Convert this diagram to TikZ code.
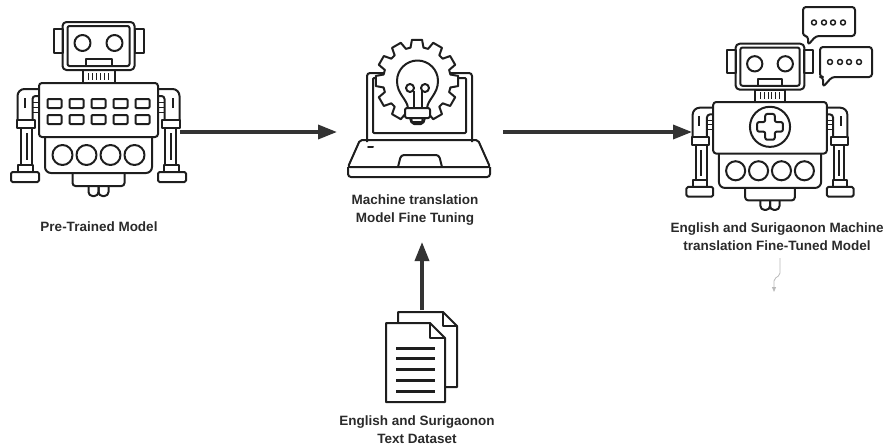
\documentclass[tikz,border=0pt]{standalone}
\usepackage{fontspec}
\setmainfont{Liberation Sans}
\usetikzlibrary{arrows.meta,calc}
\definecolor{ink}{HTML}{1E1E1E}
\definecolor{flowgray}{HTML}{333333}
\definecolor{labelgray}{HTML}{2A2A2A}
\tikzset{icon/.style = {draw=ink, line width=2pt, line join=round}}
\tikzset{flow/.style = {draw=flowgray, line width=3.5pt, -{Triangle[length=19pt,width=14pt]}}}
\tikzset{loose/.style = {draw=gray!55, line width=0.8pt, -{Triangle[length=5pt,width=4pt]}}}
\tikzset{caption/.style = {text=labelgray, font=\fontsize{13.5}{18}\selectfont\bfseries, align=center, inner sep=0}}
\tikzset{hull/.style = {inner sep=0, outer sep=0}}
% robot without its chest panel, origin at the top middle of the body
\tikzset{robot/.pic = {
    \draw[icon] (-45,-54) rectangle (-36,-30);
    \draw[icon] (36,-54) rectangle (45,-30);
    \draw[icon,rounded corners=4] (-36,-61) rectangle (36,-13);
    \draw[icon,rounded corners=2] (-31,-57) rectangle (31,-17);
    \draw[icon] (-16,-40) circle [radius = 8] (16,-40) circle [radius = 8];
    \draw[icon] (-13,-17) rectangle (13,-24);
    \draw[icon] (-16,-13) rectangle (16,0);
    \foreach \n in {-10,-6,...,10} \draw[icon, line width=1pt] (\n,-10) -- (\n,-3);
    \draw[icon,rounded corners=3] (-59.5,0) rectangle (59.5,54);
    \draw[icon,rounded corners=6] (-53.5,54) -- (-53.5,90) -- (53.5,90) -- (53.5,54);
    \foreach \c in {-36,-12,12,36} \draw[icon] (\c,72) circle [radius = 10];
    \draw[icon,rounded corners=3] (-26,90) -- (-26,103) -- (26,103) -- (26,90);
    \draw[icon,rounded corners=4] (-10,103) -- (-10,113) -- (0,113) -- (0,103);
    \draw[icon,rounded corners=4] (0,103) -- (0,113) -- (10,113) -- (10,103);
    \foreach \s in {1,-1} {
      \begin{scope}[xscale=\s]
        \draw[icon,rounded corners=7] (-59.5,6) -- (-81,6) -- (-81,37);
        \draw[icon,rounded corners=3] (-59.5,13) -- (-66,13) -- (-66,37);
        \draw[icon] (-74,25) -- (-74,15);
        \foreach \f in {19,24,29} \draw[icon, line width=1pt] (-66,\f) -- (-60,\f);
        \draw[icon] (-81.5,37) rectangle (-63.5,45);
        \draw[icon] (-77.5,45) rectangle (-66.5,82);
        \draw[icon] (-72,50) -- (-72,77);
        \draw[icon] (-80.5,82) rectangle (-65.5,89);
        \draw[icon,rounded corners=1.5] (-87.5,89) rectangle (-59.5,99);
      \end{scope}
    }
}}

\begin{document}
\begin{tikzpicture}[x=1pt, y=-1pt]
  \useasboundingbox (0,0) rectangle (888,447);

  % icon frames used as connector ends
  \node[hull, minimum width=169pt, minimum height=180pt] (pretrained) at (95.5,132) {};
  \node[hull, minimum width=166pt, minimum height=220pt] (finetuning) at (420,132) {};
  \node[hull, minimum width=156pt, minimum height=180pt] (translator) at (770,132) {};
  \node[hull, minimum width=80pt, minimum height=94pt] (dataset) at (422,357) {};

  % pre-trained robot
  \pic at (98.5,83) {robot};
  \begin{scope}[shift={(98.5,83)}]
    \foreach \r in {20.5,36.5}
      \foreach \c in {-44,-22,0,22,44}
        \draw[icon, rounded corners=1] (\c-7,\r-4.5) rectangle (\c+7,\r+4.5);
  \end{scope}

  % laptop with gear and bulb
  \draw[icon,rounded corners=3] (367,142) -- (367,73) -- (472,73) -- (472,142);
  \draw[icon,rounded corners=1] (373,78) rectangle (466,133);
  \draw[icon,rounded corners=2] (360,140) -- (478,140) -- (490,167) -- (348,167) -- cycle;
  \draw[icon,rounded corners=3] (348,167) -- (348,177) -- (490,177) -- (490,167);
  \draw[icon,line cap=round] (368,147) -- (373,147);
  \draw[icon,rounded corners=3] (398,167) -- (401,155) -- (439,155) -- (442,167);
  \begin{scope}[shift={(417,81)}]
    \draw[icon, fill=white] (-11:34)
      \foreach \a in {0,30,...,330} { -- (\a-11:34) -- (\a-7:41.5) -- (\a+7:41.5) -- (\a+11:34) } -- cycle;
  \end{scope}
  \draw[icon, fill=white] (408,108) .. controls (407,99) and (397,94) .. (397,81)
    arc [start angle = 180, end angle = 360, radius = 20.5]
    .. controls (438,94) and (428,99) .. (427,108) -- cycle;
  \draw[icon] (410,88) circle [radius = 4] (425,88) circle [radius = 4];
  \draw[icon] (413.5,91) -- (413.5,108) (421.5,91) -- (421.5,108);
  \draw[icon,rounded corners=2, fill=white] (405,108) rectangle (430,118);
  \draw[icon,rounded corners=2] (410,118) -- (412,124) -- (423,124) -- (425,118);

  % fine-tuned robot with speech bubbles
  \pic[scale=0.955] at (770,102) {robot};
  \begin{scope}[shift={(770,102)}, scale=0.955]
    \draw[icon] (0,26) circle [radius = 21];
    \draw[icon, rounded corners=2, shift={(0,26)}] (-5,-13.5) -- (5,-13.5) -- (5,-5) -- (13.5,-5)
      -- (13.5,5) -- (5,5) -- (5,13.5) -- (-5,13.5) -- (-5,5) -- (-13.5,5) -- (-13.5,-5) -- (-5,-5) -- cycle;
  \end{scope}
  \draw[icon,rounded corners=3] (803,7) -- (855,7) -- (855,36) -- (816,36) -- (808,45) -- (808,36) -- (803,36) -- cycle;
  \foreach \d in {814,824,833,843} \draw[icon, line width=1.5pt] (\d,22.5) circle [radius = 2.5];
  \draw[icon,rounded corners=3] (820,47) -- (872,47) -- (872,77) -- (832,77) -- (823,87) -- (823,77) -- (820,77) -- cycle;
  \foreach \d in {830,840,849,859} \draw[icon, line width=1.5pt] (\d,62) circle [radius = 2.5];

  % text documents
  \draw[icon] (398,312) -- (443,312) -- (457,326) -- (457,387) -- (398,387) -- cycle;
  \draw[icon] (443,312) -- (443,326) -- (457,326);
  \draw[icon, fill=white] (386,323) -- (430,323) -- (445,338) -- (445,402) -- (386,402) -- cycle;
  \draw[icon] (430,323) -- (430,338) -- (445,338);
  \foreach \l in {348,358,369,380,391} \draw[icon, line width=3pt] (396,\l) -- (435,\l);

  % captions (base is the last line)
  \node[caption, anchor=base] (pretrainedlbl) at (99,231) {Pre-Trained Model};
  \node[caption, anchor=base] (finetuninglbl) at (415,222) {Machine translation\\Model Fine Tuning};
  \node[caption, anchor=base] (translatorlbl) at (777,250) {English and Surigaonon Machine\\translation Fine-Tuned Model};
  \node[caption, anchor=base] (datasetlbl) at (417,443) {English and Surigaonon\\Text Dataset};

  % connectors
  \draw[flow] (pretrained.east) -- (finetuning.west);
  \draw[flow] (finetuning.east) -- (translator.west);
  \draw[flow] (dataset.north) -- (dataset.north |- finetuning.south);
  \coordinate (stray) at (780,258);
  \coordinate (strayend) at (774,292);
  \draw[loose, rounded corners=2] (stray) -- (780,275) -- (774,279) -- (strayend);
\end{tikzpicture}
\end{document}
